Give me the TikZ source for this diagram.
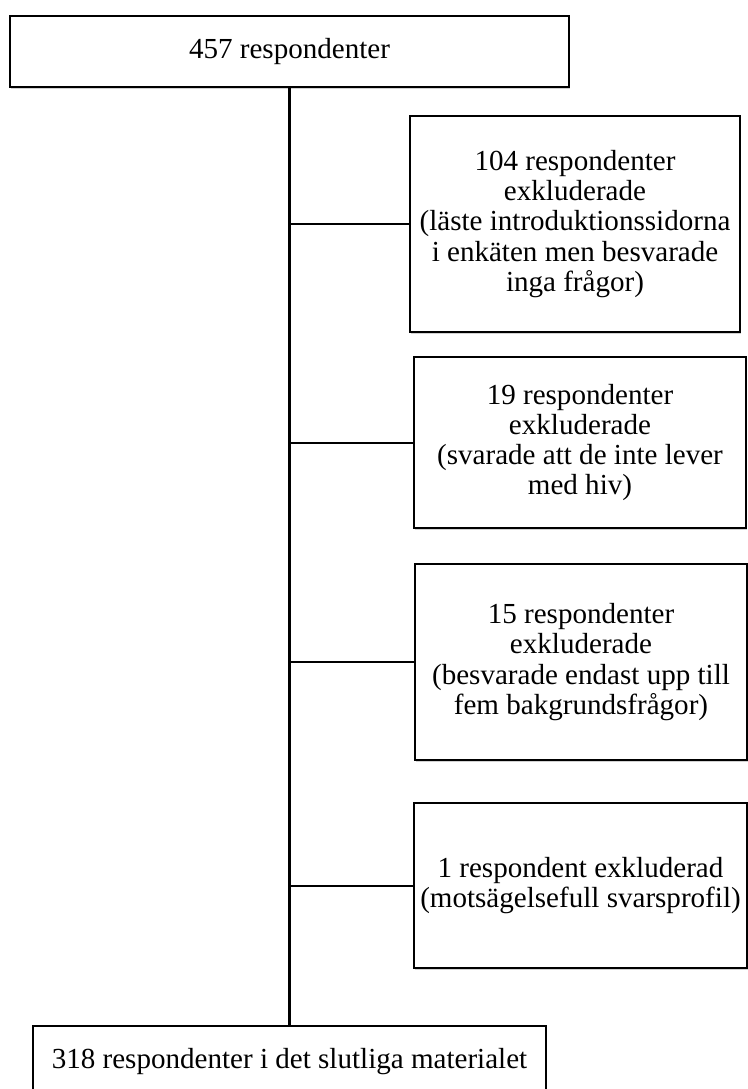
\documentclass[tikz,border=0pt]{standalone}
\usepackage{fontspec}
\setmainfont{Liberation Serif}
\usetikzlibrary{shadows}

\tikzset{
  flowbox/.style={draw, line width=1.1pt, fill=white, align=center, inner sep=2pt,
    font=\fontsize{21.8}{22.7}\selectfont,
    drop shadow={shadow xshift=0.8pt, shadow yshift=-1.4pt, opacity=0.3, fill=black!60}},
  trunk/.style={line width=2.2pt},
  branch/.style={line width=1.5pt},
}

\begin{document}
\begin{tikzpicture}[x=0.75pt,y=0.75pt,yscale=-1,xscale=1]
\useasboundingbox (0, 0) rectangle (747, 1089);

\node [flowbox, minimum width=419pt, minimum height=53pt] (start) at (289.5, 51.5) {457 respondenter};

\node [flowbox, minimum width=247.5pt, minimum height=162pt] (excl1) at (575, 224) {104 respondenter\\exkluderade\\(läste introduktionssidorna\\i enkäten men besvarade\\inga frågor)};
\node [flowbox, minimum width=249pt, minimum height=128pt] (excl2) at (580, 442.5) {19 respondenter\\exkluderade\\(svarade att de inte lever\\med hiv)};
\node [flowbox, minimum width=249pt, minimum height=147pt] (excl3) at (581, 662) {15 respondenter\\exkluderade\\(besvarade endast upp till\\fem bakgrundsfrågor)};
\node [flowbox, minimum width=250pt, minimum height=124pt] (excl4) at (580.5, 885.5) {1 respondent exkluderad\\(motsägelsefull svarsprofil)};

\node [flowbox, minimum width=385pt, minimum height=53pt] (final) at (289.5, 1061.5) {318 respondenter i det slutliga materialet};

\draw [trunk] (start.south) -- (final.north);
\draw [branch] (start.south |- excl1.west) -- (excl1.west);
\draw [branch] (start.south |- excl2.west) -- (excl2.west);
\draw [branch] (start.south |- excl3.west) -- (excl3.west);
\draw [branch] (start.south |- excl4.west) -- (excl4.west);
\end{tikzpicture}
\end{document}
